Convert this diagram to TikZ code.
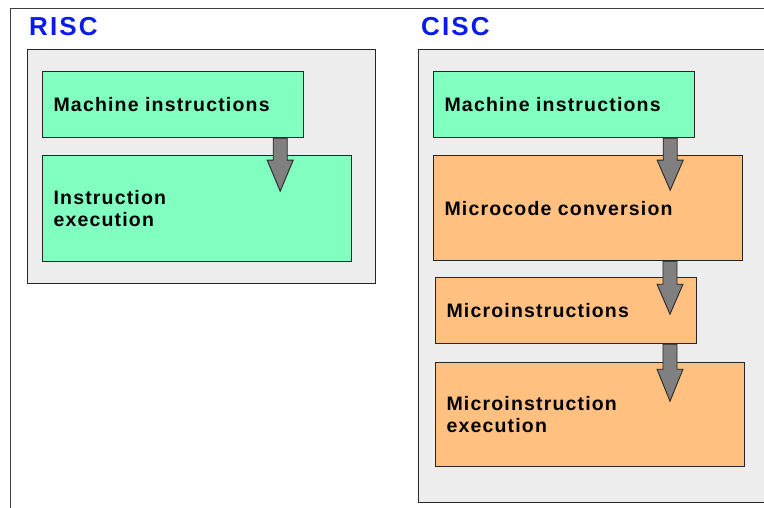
\documentclass[tikz,border=0pt]{standalone}
\usepackage{fontspec}
\setmainfont{Liberation Sans}
\newfontfamily\stepfont[LetterSpace=6]{Liberation Sans}
\newfontfamily\titlefont[LetterSpace=8]{Liberation Sans}
\usetikzlibrary{calc}
\begin{document}
\begin{tikzpicture}[x=1pt,y=-1pt,
  framebox/.style={draw=black!85, line width=1.2pt, fill=black!7},
  stepgreen/.style={draw=black!85, line width=1.2pt, fill=green1, anchor=north west,
    font=\stepfont\bfseries\fontsize{19.5}{22}\selectfont, align=left, inner xsep=11pt, inner ysep=0pt},
  steporange/.style={stepgreen, fill=orange1},
  title/.style={text=blue1, font=\titlefont\bfseries\fontsize{26}{30}\selectfont, anchor=west, inner sep=0pt},
  arr/.style={draw=black!85, line width=0.9pt, fill=black!50, line join=miter}
]
\definecolor{green1}{HTML}{80FFC0}
\definecolor{orange1}{HTML}{FFC080}
\definecolor{blue1}{HTML}{0A1AF0}
\useasboundingbox (0,0) rectangle (764,508);
% outer frame
\draw[black!75, line width=1pt] (10,520) -- (10,9) -- (780,9);
% titles
\node[title] (risc) at (29,27) {RISC};
\node[title] (cisc) at (421,27) {CISC};
% group boxes
\node[framebox, anchor=north west, minimum width=348pt, minimum height=234pt, inner sep=0pt] (rg) at (27,49) {};
\node[framebox, anchor=north west, minimum width=380pt, minimum height=453pt, inner sep=0pt] (cg) at (418,49) {};
% RISC
\node[stepgreen, text width=239pt, minimum height=66pt] (rm) at (42,71) {Machine instructions};
\node[stepgreen, text width=287pt, minimum height=106pt] (re) at (42,155) {Instruction\\execution};
% CISC
\node[stepgreen, text width=239pt, minimum height=66pt] (cm) at (433,71) {Machine instructions};
\node[steporange, text width=287pt, minimum height=105pt] (cc) at (433,155) {Microcode conversion};
\node[steporange, text width=239pt, minimum height=66pt] (ci) at (435,277) {Microinstructions};
\node[steporange, text width=287pt, minimum height=104pt] (ce) at (435,362) {Microinstruction\\execution};
% arrows
\path ($(rm.south east)+(-24,0)$) coordinate (a1);
\path ($(cm.south east)+(-25,0)$) coordinate (a2);
\path ($(cc.south west)+(237,0)$) coordinate (a3);
\path ($(ci.south west)+(235,0)$) coordinate (a4);
\foreach \s/\h/\t in {a1/22/53, a2/22/52, a3/23/53, a4/25/57}{
  \draw[arr] (\s) +(-7,0) -- +(-7,\h) -- +(-13,\h) -- +(0,\t) -- +(13,\h) -- +(7,\h) -- +(7,0) -- cycle;
}
\end{tikzpicture}
\end{document}
